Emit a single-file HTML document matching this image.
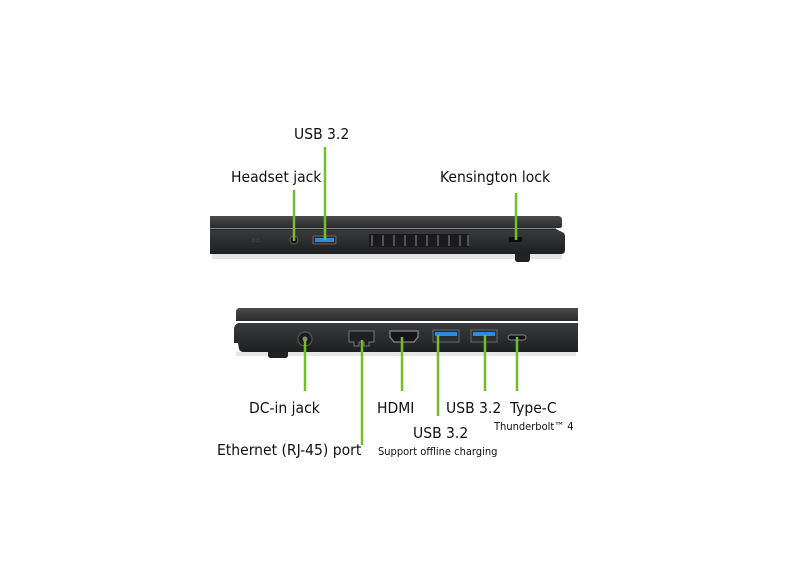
<!DOCTYPE html>
<html><head><style>
html,body{margin:0;padding:0;background:#fff;}
svg{display:block}
text{font-family:"DejaVu Sans Condensed","Liberation Sans",sans-serif;fill:#111;}
</style></head><body>
<svg width="786" height="587" viewBox="0 0 786 587" xmlns="http://www.w3.org/2000/svg">
<defs>
<linearGradient id="lid" x1="0" y1="0" x2="0" y2="1"><stop offset="0" stop-color="#4a4b4d"/><stop offset="1" stop-color="#2a2b2d"/></linearGradient>
<linearGradient id="body" x1="0" y1="0" x2="0" y2="1"><stop offset="0" stop-color="#3a3b3d"/><stop offset="1" stop-color="#1e1f21"/></linearGradient>
</defs>
<!-- top laptop -->
<rect x="212" y="254" width="350" height="5" fill="#e4e4e4"/>
<path d="M515 253 h15 v6 q0 3 -3 3 h-9 q-3 0 -3 -3z" fill="#222"/>
<path d="M210 216 H558 q4 0 4 4 v6 q0 2 -3 2 H210z" fill="url(#lid)"/>
<path d="M210 229 H556 l6 3 q3 1 3 4 v14 q0 4 -4 4 H210z" fill="url(#body)"/>
<line x1="210" y1="229" x2="556" y2="229" stroke="#111" stroke-width="1"/>
<rect x="313" y="236" width="23" height="8" rx="1" fill="#2a2c30" stroke="#777" stroke-width="0.8"/>
<rect x="315" y="238" width="19" height="4" fill="#2a8be0"/>
<circle cx="294" cy="240" r="4" fill="#111" stroke="#666" stroke-width="1"/>
<text x="252" y="242" font-size="5" style="fill:#777">⁝⁝ ⁝⁝</text>
<g fill="#666">
<rect x="369" y="234" width="100" height="13" fill="#1a1a1c"/>
<g stroke="#777" stroke-width="1.2">
<line x1="372" y1="235" x2="372" y2="246"/><line x1="383" y1="235" x2="383" y2="246"/><line x1="394" y1="235" x2="394" y2="246"/><line x1="405" y1="235" x2="405" y2="246"/><line x1="416" y1="235" x2="416" y2="246"/><line x1="427" y1="235" x2="427" y2="246"/><line x1="438" y1="235" x2="438" y2="246"/><line x1="449" y1="235" x2="449" y2="246"/><line x1="460" y1="235" x2="460" y2="246"/><line x1="468" y1="235" x2="468" y2="246"/>
</g></g>
<rect x="509" y="237" width="13" height="5" fill="#0e0e0e"/>
<!-- bottom laptop -->
<rect x="236" y="352" width="340" height="4" fill="#e6e6e6"/>
<path d="M268 351 h20 v4 q0 3 -3 3 h-14 q-3 0 -3 -3z" fill="#222"/>
<path d="M240 308 H578 v13 H236 v-9 q0 -4 4 -4z" fill="url(#lid)"/>
<path d="M236 323 H578 v29 H244 q-4 0 -5 -3 l-1 -6 h-4 v-14 q0 -4 4 -6z" fill="url(#body)"/>
<circle cx="305" cy="339" r="7" fill="#1a1a1a" stroke="#555" stroke-width="1.2"/>
<circle cx="305" cy="339" r="2.5" fill="#888"/>
<path d="M349 331 h25 v11 h-5 v4 h-5 v-4 h-5 v4 h-5 v-4 h-5z" fill="#1e1f22" stroke="#777" stroke-width="1"/>
<path d="M390 331 h28 v6 l-4 5 h-20 l-4 -5z" fill="#151517" stroke="#888" stroke-width="1.2"/>
<rect x="433" y="330" width="26" height="12" fill="#2a2c30" stroke="#777" stroke-width="0.8"/>
<rect x="435" y="332" width="22" height="4" fill="#2a8be0"/>
<rect x="471" y="330" width="26" height="12" fill="#2a2c30" stroke="#777" stroke-width="0.8"/>
<rect x="473" y="332" width="22" height="4" fill="#2a8be0"/>
<rect x="508" y="335" width="18" height="5" rx="2.5" fill="#111" stroke="#888" stroke-width="1"/>
<!-- green lines -->
<g stroke="#72c026" stroke-width="2.5">
<line x1="294" y1="190" x2="294" y2="241"/>
<line x1="325" y1="147" x2="325" y2="240"/>
<line x1="516" y1="193" x2="516" y2="240"/>
<line x1="305" y1="340" x2="305" y2="391"/>
<line x1="362" y1="340" x2="362" y2="445"/>
<line x1="402" y1="337" x2="402" y2="391"/>
<line x1="438" y1="335" x2="438" y2="416"/>
<line x1="485" y1="335" x2="485" y2="391"/>
<line x1="517" y1="337" x2="517" y2="391"/>
</g>
<!-- labels -->
<text x="294" y="139" font-size="15.5">USB 3.2</text>
<text x="231" y="182" font-size="15.5">Headset jack</text>
<text x="440" y="182" font-size="15.5">Kensington lock</text>
<text x="249" y="413" font-size="15.5">DC-in jack</text>
<text x="377" y="413" font-size="15.5">HDMI</text>
<text x="446" y="413" font-size="15.5">USB 3.2</text>
<text x="510" y="413" font-size="15.5">Type-C</text>
<text x="494" y="430" font-size="11">Thunderbolt™ 4</text>
<text x="413" y="438" font-size="15.5">USB 3.2</text>
<text x="217" y="455" font-size="15.5">Ethernet (RJ-45) port</text>
<text x="378" y="455" font-size="11">Support offline charging</text>
</svg>
</body></html>
